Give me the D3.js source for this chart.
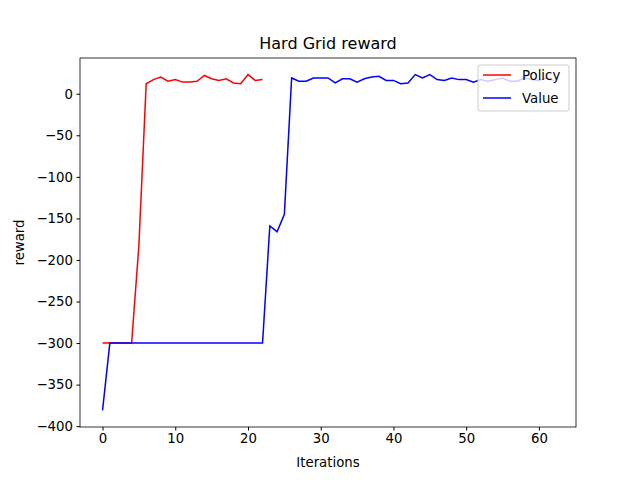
<!DOCTYPE html>
<html><head><meta charset="utf-8">
<script src="https://cdn.jsdelivr.net/npm/d3@7"></script>
<style>body{margin:0;background:#fff}text{font-family:"DejaVu Sans",sans-serif}</style>
</head><body><svg id="c" width="640" height="480"></svg>
<script>
// rewards per iteration
const policy = [-300,-300,-300,-300,-300,-182,12,17,20,15,17,14,14,15,22,18,16,18,13,12,23,16,17];
const value = [-381,-300,-300,-300,-300,-300,-300,-300,-300,-300,-300,-300,-300,-300,-300,-300,-300,-300,-300,-300,-300,-300,-300,
  -159,-166,-145,19,15,15,19,19,19,13,18,18,14,18,20,21,16,16,12,13,23,19,23,17,16,19,17,17,14,17,15,17,19,15,15,19,17,16,19,16];
const yTicks = [0,-50,-100,-150,-200,-250,-300,-350,-400];
const xTicks = [0,10,20,30,40,50,60];

const svg = d3.select("#c");
const L = 80, R = 576, T = 58, B = 427;
const x = d3.scaleLinear().domain([-3.1, 65.1]).range([L, R]);
const y = d3.scaleLinear().domain([-401, 43]).range([B, T]);

svg.append("g").attr("transform", `translate(0,${B})`)
  .call(d3.axisBottom(x).tickValues(xTicks).tickSize(3.5).tickPadding(3.5))
  .call(g => g.select(".domain").remove());
svg.append("g").attr("transform", `translate(${L},0)`)
  .call(d3.axisLeft(y).tickValues(yTicks).tickSize(3.5).tickPadding(3.5))
  .call(g => g.select(".domain").remove());
svg.selectAll(".tick text").attr("font-size", 13.3).attr("fill", "#000").attr("font-family", "DejaVu Sans");

const line = d3.line().x((d, i) => x(i)).y(d => y(d));
svg.append("path").datum(policy).attr("d", line).attr("fill", "none").attr("stroke", "red").attr("stroke-width", 1.5);
svg.append("path").datum(value).attr("d", line).attr("fill", "none").attr("stroke", "blue").attr("stroke-width", 1.5);

svg.append("rect").attr("x", L).attr("y", T).attr("width", R - L).attr("height", B - T)
  .attr("fill", "none").attr("stroke", "#000").attr("stroke-width", 0.8);

svg.append("text").attr("x", (L + R) / 2).attr("y", 49).attr("text-anchor", "middle").attr("font-size", 16).text("Hard Grid reward");
svg.append("text").attr("x", (L + R) / 2).attr("y", 467).attr("text-anchor", "middle").attr("font-size", 13.3).text("Iterations");
svg.append("text").attr("transform", `translate(24,${(T + B) / 2}) rotate(-90)`).attr("text-anchor", "middle").attr("font-size", 13.3).text("reward");

const lg = svg.append("g").attr("transform", "translate(478,65)");
lg.append("rect").attr("width", 91).attr("height", 46).attr("rx", 2).attr("fill", "#fff").attr("fill-opacity", 0.8).attr("stroke", "#ccc");
[["Policy", "red"], ["Value", "blue"]].forEach(([n, c], i) => {
  const yy = 10 + i * 23;
  lg.append("line").attr("x1", 5).attr("x2", 33).attr("y1", yy).attr("y2", yy).attr("stroke", c).attr("stroke-width", 1.5);
  lg.append("text").attr("x", 44).attr("y", yy + 5).attr("font-size", 13.3).text(n);
});
</script></body></html>
